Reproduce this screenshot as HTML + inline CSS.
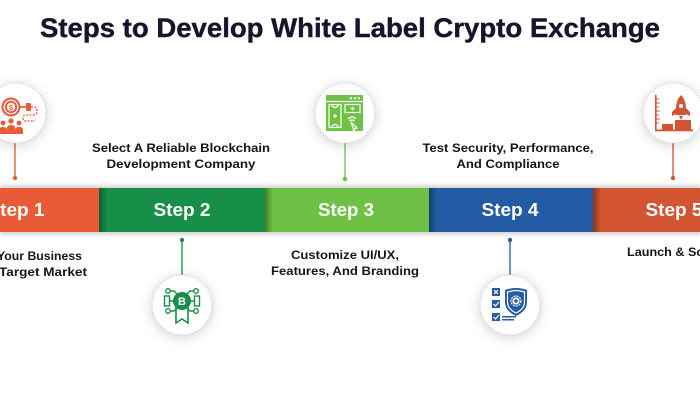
<!DOCTYPE html>
<html><head><meta charset="utf-8"><style>
html,body{margin:0;padding:0;background:#fff;}
svg{display:block;}
text{font-family:"Liberation Sans",Arial,sans-serif;font-weight:bold;}
</style></head><body>
<svg width="700" height="419" viewBox="0 0 700 419" xmlns="http://www.w3.org/2000/svg">
<defs>
<filter id="sh" x="-50%" y="-50%" width="200%" height="200%">
<feDropShadow dx="0" dy="2" stdDeviation="6" flood-color="#000" flood-opacity="0.18"/>
</filter>
<filter id="blur" x="-10%" y="-50%" width="120%" height="200%"><feGaussianBlur stdDeviation="1.5"/></filter>
<linearGradient id="lg" x1="0" x2="1" y1="0" y2="0">
<stop offset="0" stop-color="#000" stop-opacity="0.35"/>
<stop offset="1" stop-color="#000" stop-opacity="0"/>
</linearGradient>
</defs>
<rect width="700" height="419" fill="#fff"/>

<!-- Title -->
<text x="350" y="37" font-size="27" fill="#15152d" stroke="#15152d" stroke-width="0.4" text-anchor="middle" textLength="620" lengthAdjust="spacingAndGlyphs">Steps to Develop White Label Crypto Exchange</text>

<!-- Bar shadow -->
<rect x="0" y="185" width="700" height="50" fill="#d8d8d8" filter="url(#blur)"/>
<!-- Bar segments -->
<rect x="0" y="188" width="99" height="44" fill="#E95B36"/>
<rect x="99" y="188" width="166" height="44" fill="#178F48"/>
<rect x="265" y="188" width="164" height="44" fill="#6EC145"/>
<rect x="429" y="188" width="164" height="44" fill="#235CA5"/>
<rect x="593" y="188" width="107" height="44" fill="#D25430"/>
<rect x="99" y="188" width="8" height="44" fill="url(#lg)"/>
<rect x="265" y="188" width="8" height="44" fill="url(#lg)"/>
<rect x="429" y="188" width="8" height="44" fill="url(#lg)"/>
<rect x="593" y="188" width="8" height="44" fill="url(#lg)"/>

<g fill="#fff" font-size="18" text-anchor="middle">
<text x="16" y="216" textLength="57" lengthAdjust="spacingAndGlyphs">Step 1</text>
<text x="182" y="216" textLength="57" lengthAdjust="spacingAndGlyphs">Step 2</text>
<text x="346" y="216" textLength="56" lengthAdjust="spacingAndGlyphs">Step 3</text>
<text x="510" y="216" textLength="57" lengthAdjust="spacingAndGlyphs">Step 4</text>
<text x="674" y="216" textLength="57" lengthAdjust="spacingAndGlyphs">Step 5</text>
</g>

<!-- Labels -->
<g fill="#151515" font-size="12" text-anchor="middle">
<text x="181" y="152" textLength="178" lengthAdjust="spacingAndGlyphs">Select A Reliable Blockchain</text>
<text x="181" y="168" textLength="149" lengthAdjust="spacingAndGlyphs">Development Company</text>
<text x="508" y="152" textLength="171" lengthAdjust="spacingAndGlyphs">Test Security, Performance,</text>
<text x="508" y="168" textLength="103" lengthAdjust="spacingAndGlyphs">And Compliance</text>
<text x="345" y="259" textLength="108" lengthAdjust="spacingAndGlyphs">Customize UI/UX,</text>
<text x="345" y="275" textLength="148" lengthAdjust="spacingAndGlyphs">Features, And Branding</text>
<text x="627" y="256" text-anchor="start" textLength="94" lengthAdjust="spacingAndGlyphs">Launch &amp; Scale</text>
<text x="-6" y="260" text-anchor="end">Define</text>
<text x="-3" y="260" text-anchor="start" textLength="85" lengthAdjust="spacingAndGlyphs">Your Business</text>
<text x="-5" y="276" text-anchor="end">Goals &amp;</text>
<text x="-1" y="276" text-anchor="start" textLength="88" lengthAdjust="spacingAndGlyphs">Target Market</text>
</g>

<!-- Connectors -->
<g stroke-width="1.3">
<line x1="15" y1="143" x2="15" y2="178" stroke="#E95B36"/>
<line x1="345" y1="143" x2="345" y2="179" stroke="#6EC145"/>
<line x1="673" y1="143" x2="673" y2="178" stroke="#D25430"/>
<line x1="182" y1="240" x2="182" y2="275" stroke="#178F48"/>
<line x1="510" y1="240" x2="510" y2="275" stroke="#235CA5"/>
</g>
<circle cx="15" cy="178" r="2.2" fill="#E95B36"/>
<circle cx="345" cy="179" r="2.2" fill="#6EC145"/>
<circle cx="673" cy="178" r="2.2" fill="#D25430"/>
<circle cx="182" cy="240" r="2.2" fill="#178F48"/>
<circle cx="510" cy="240" r="2.2" fill="#235CA5"/>

<!-- Circles -->
<g fill="#fff" stroke="#c8c8c8" stroke-width="1" stroke-dasharray="1.2 1.4">
<circle cx="16" cy="113" r="30" filter="url(#sh)"/>
<circle cx="345" cy="113" r="30" filter="url(#sh)"/>
<circle cx="673" cy="113" r="30" filter="url(#sh)"/>
<circle cx="182" cy="305" r="30" filter="url(#sh)"/>
<circle cx="510" cy="305" r="30" filter="url(#sh)"/>
</g>

<!-- Icon 1 -->
<g fill="#E95B36">
<circle cx="11" cy="107" r="9.5"/>
<circle cx="11" cy="107" r="6.8" fill="none" stroke="#fff" stroke-width="1.2"/>
<circle cx="11" cy="107" r="4.2" fill="#fff"/>
<text x="11" y="110" font-size="7.5" text-anchor="middle" fill="#E95B36">$</text>
<rect x="20" y="106" width="6" height="1.8"/>
<rect x="26" y="103" width="5" height="8" rx="1"/>
<path d="M31,107 h3 q3,0 3,4 q0,4 -4,4 h-7 q-3,0 -3,3 q0,3 3,3 h9" fill="none" stroke="#E95B36" stroke-width="1.3" stroke-dasharray="2 1.3"/>
<circle cx="3" cy="123" r="2.4"/><circle cx="11" cy="121" r="2.6"/><circle cx="19" cy="123" r="2.4"/>
<path d="M-1,134 v-4 q0,-3 4,-3 q4,0 4,3 v4 z"/>
<path d="M7,134 v-6 q0,-3 4,-3 q4,0 4,3 v6 z"/>
<path d="M15,134 v-4 q0,-3 4,-3 q4,0 4,3 v4 z"/>
</g>

<!-- Icon 3 -->
<g>
<rect x="326" y="95" width="37" height="36" rx="1" fill="#6EC145"/>
<line x1="326" y1="101.5" x2="363" y2="101.5" stroke="#fff" stroke-width="1.2"/>
<circle cx="351" cy="98.3" r="1.2" fill="#fff"/><circle cx="355" cy="98.3" r="1.2" fill="#fff"/><circle cx="359" cy="98.3" r="1.2" fill="#fff"/>
<g fill="none" stroke="#fff" stroke-width="1.2">
<rect x="329" y="104.5" width="12" height="23"/>
<path d="M331,104.5 q4,6 8,0 M331,127.5 q4,-6 8,0"/>
<path d="M335,114 v4 M333,116 h4"/>
<rect x="345" y="104.5" width="15" height="8"/>
<path d="M352.5,106.5 v4 M350.5,108.5 h4"/>
<path d="M348,119 q4,-4 8,0 M349.5,121 q2.5,-2 5,0"/>
<path d="M351,122 l6,6 l-2,0.5 l-1,2.5 z"/>
</g>
</g>

<!-- Icon 5 -->
<g fill="#D25430">
<rect x="655" y="95" width="1.6" height="36"/>
<rect x="655" y="129.5" width="38" height="1.8"/>
<g stroke="#D25430" stroke-width="1"><path d="M656,99 h3 M656,103 h4 M656,107 h3 M656,111 h4 M656,115 h3 M656,119 h4 M656,123 h3"/></g>
<rect x="662" y="124" width="11" height="6"/>
<rect x="675" y="120" width="16" height="10"/>
<path d="M681,95 q-5,5 -5,14 v6 h10 v-6 q0,-9 -5,-14 z"/>
<circle cx="681" cy="106" r="2" fill="#fff"/>
<path d="M676,108 l-4,4 v4 l4,-2 z M686,108 l4,4 v4 l-4,-2 z"/>
<path d="M679,116 h4 l-2,4 z"/>
</g>

<!-- Icon 2 -->
<g>
<g fill="none" stroke="#178F48" stroke-width="1.4">
<circle cx="168" cy="291" r="2.3"/><circle cx="196" cy="291" r="2.3"/>
<circle cx="168" cy="311" r="2.3"/><circle cx="196" cy="311" r="2.3"/>
<path d="M170,291 h4 l3,3 M194,291 h-4 l-3,3 M170,311 h4 l3,-3 M194,311 h-4 l-3,-3"/>
<rect x="164.5" y="296" width="5" height="10"/><rect x="194.5" y="296" width="5" height="10"/>
<path d="M169.5,301 h4 M194.5,301 h-4"/>
</g>
<path d="M176,307 v16 l6,-4 l6,4 v-16 z" fill="none" stroke="#178F48" stroke-width="1.6"/>
<circle cx="182" cy="301" r="9" fill="#178F48"/>
<text x="182" y="305" font-size="11" fill="#fff" text-anchor="middle">B</text>
</g>

<!-- Icon 4 -->
<g>
<g fill="#235CA5">
<rect x="492" y="288" width="8" height="8"/>
<rect x="492" y="300" width="8" height="8"/>
<rect x="492" y="313" width="8" height="8"/>
<path d="M505,290 q11,-4 22,0 v12 q0,9 -11,14 q-11,-5 -11,-14 z"/>
<rect x="502" y="316" width="14" height="1.5"/>
<rect x="502" y="319" width="12" height="1.5"/>
</g>
<g fill="none" stroke="#fff" stroke-width="1.2">
<path d="M494,290 l4,4 M498,290 l-4,4"/>
<path d="M493.5,304 l2,2 l3.5,-4"/>
<path d="M493.5,317 l2,2 l3.5,-4"/>
<path d="M507.5,292 q8.5,-3 17,0 v10 q0,7 -8.5,11 q-8.5,-4 -8.5,-11 z"/>
<circle cx="516" cy="301" r="5" stroke-dasharray="2 1"/>
</g>
<circle cx="516" cy="301" r="3.6" fill="#fff"/>
<circle cx="516" cy="301" r="1.8" fill="#235CA5"/>
</g>
</svg>
</body></html>
